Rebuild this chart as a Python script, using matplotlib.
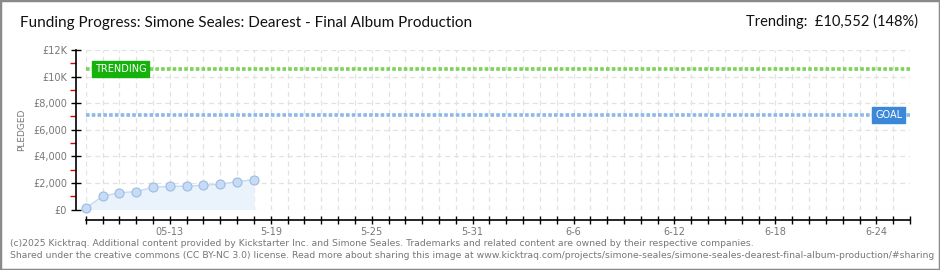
import matplotlib
matplotlib.use("Agg")
import matplotlib.pyplot as plt
from matplotlib.patches import Rectangle
import numpy as np

# ---- data ----
start_label = "05-08"
n_days = 49
day_index = [0, 1, 2, 3, 4, 5, 6, 7, 8, 9, 10]
pledged = [100, 990, 1270, 1340, 1670, 1750, 1750, 1820, 1900, 2100, 2250]
goal = 7130
trending = 10552
trend_pct = 148
label_days = [5, 11, 17, 23, 29, 35, 41, 47]
label_texts = ["05-13", "5-19", "5-25", "5-31", "6-6", "6-12", "6-18", "6-24"]
y_ticks = [0, 2000, 4000, 6000, 8000, 10000, 12000]
y_labels = ["£0", "£2,000", "£4,000", "£6,000", "£8,000", "£10K", "£12K"]
y_minor = [1000, 3000, 5000, 7000, 9000, 11000]

title = "Funding Progress: Simone Seales: Dearest - Final Album Production"
footer1 = ("(c)2025 Kicktraq. Additional content provided by Kickstarter Inc. and Simone Seales. "
           "Trademarks and related content are owned by their respective companies.")
footer2 = ("Shared under the creative commons (CC BY-NC 3.0) license. Read more about sharing this image at "
           "www.kicktraq.com/projects/simone-seales/simone-seales-dearest-final-album-production/#sharing")

plt.rcParams['font.family'] = ['DejaVu Sans']

fig = plt.figure(figsize=(9.4, 2.7), dpi=100)
fig.patch.set_facecolor('white')
fig.patches.append(Rectangle((0, 0), 1, 1, transform=fig.transFigure, fill=False,
                             edgecolor='#8a8a8a', linewidth=2.5))

W, H = 940, 270
left_px, right_px, top_px, bot_px = 85.7, 910, 50, 209.5
ax = fig.add_axes([left_px / W, 1 - bot_px / H, (right_px - left_px) / W, (bot_px - top_px) / H])
ax.set_xlim(0, n_days)
ax.set_ylim(0, 12000)

# grid
for d in range(n_days + 1):
    ax.axvline(d, color='#e2e2e2', lw=0.9, ls=(0, (4, 3)), zorder=0)
for yv in y_ticks:
    ax.axhline(yv, color='#e2e2e2', lw=0.9, ls=(0, (4, 3)), zorder=0)

# data
ax.fill_between(day_index, pledged, 0, color='#eaf2fc', zorder=1, lw=0)
ax.plot(day_index, pledged, color='#c2daf5', lw=1.0, zorder=2, clip_on=False)
ax.plot(day_index, pledged, 'o', ms=6.5, mfc='#c6dcf6', mec='#9cbbe2', mew=0.8, zorder=3,
        clip_on=False)

# trending / goal lines
ax.axhline(trending, color='#7cd25a', lw=2.6, ls=(0, (1.0, 0.6)), zorder=2)
ax.axhline(goal, color='#8cb8ea', lw=2.6, ls=(0, (1.0, 0.6)), zorder=2)
ax.text(0.55, trending, "TRENDING", color='white', fontsize=7, ha='left', va='center',
        zorder=5, bbox=dict(boxstyle='square,pad=0.3', fc='#15b20c', ec='#15b20c'))
ax.text(48.55, goal, "GOAL", color='white', fontsize=7, ha='right', va='center',
        zorder=5, bbox=dict(boxstyle='square,pad=0.3', fc='#3b87d8', ec='#3b87d8'))

# spines
for s in ['top', 'right']:
    ax.spines[s].set_visible(False)
ax.spines['left'].set_position(('outward', 7))
ax.spines['bottom'].set_position(('outward', 7.5))
ax.spines['left'].set_color('black')
ax.spines['bottom'].set_color('black')
ax.spines['left'].set_linewidth(1.2)
ax.spines['bottom'].set_linewidth(1.2)

ax.set_yticks(y_ticks)
ax.set_yticklabels(y_labels)
ax.set_yticks(y_minor, minor=True)
ax.tick_params(axis='y', which='major', direction='inout', length=7, width=1, color='black',
               labelsize=7, labelcolor='#777777', pad=3)
ax.tick_params(axis='y', which='minor', direction='out', length=4, width=1, color='#e00000')

xt = list(range(n_days + 1))
xl = [''] * len(xt)
for d, t in zip(label_days, label_texts):
    xl[d] = t
ax.set_xticks(xt)
ax.set_xticklabels(xl)
ax.tick_params(axis='x', which='major', direction='inout', length=6, width=1, color='black',
               labelsize=7, labelcolor='#777777', pad=2)

fig.text(22 / W, 1 - 130 / H, "PLEDGED", rotation=90, fontsize=6.5, color='#777777',
         ha='center', va='center')

fig.text(20 / W, 1 - 23 / H, title, fontsize=11, color='#111111', ha='left', va='center',
         family='Lato')
fig.text(918 / W, 1 - 21 / H, f"Trending:  £{trending:,} ({trend_pct}%)", fontsize=10.5,
         color='#111111', ha='right', va='center', family='Lato')

fig.text(10 / W, 1 - 243 / H, footer1, fontsize=6.7, color='#777777', ha='left', va='center')
fig.text(10 / W, 1 - 255 / H, footer2, fontsize=6.7, color='#777777', ha='left', va='center')

fig.savefig('out.png', dpi=100, facecolor='white')
